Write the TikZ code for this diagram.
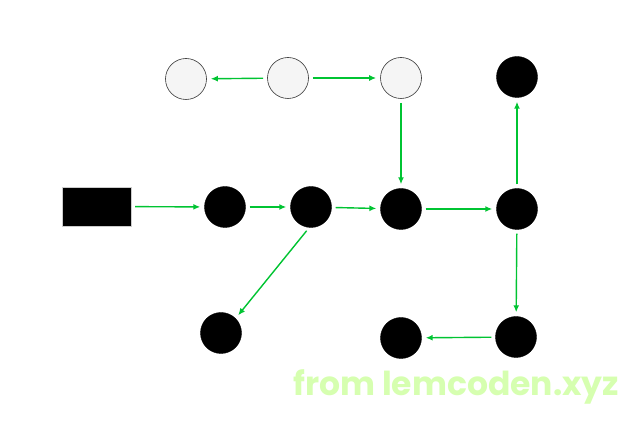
\documentclass[tikz,border=0pt]{standalone}
\usepackage{fontspec}
\newfontfamily\wmfont{Poppins}
\usetikzlibrary{arrows.meta}
\definecolor{edgegreen}{RGB}{0,196,50}
\definecolor{wmgreen}{RGB}{214,255,176}
\tikzset{
  whitecirc/.style={circle,draw=black!80,line width=0.6pt,fill=black!4,minimum size=41pt,inner sep=0pt},
  blackcirc/.style={circle,draw=black,fill=black,minimum size=41pt,inner sep=0pt},
  blackrect/.style={rectangle,draw=black!20,fill=black,minimum width=69pt,minimum height=39pt,inner sep=0pt},
  link/.style={draw=edgegreen,line width=1.4pt,-{Latex[length=7pt,width=6pt]},shorten <=4pt,shorten >=4pt}
}
\begin{document}
\begin{tikzpicture}[x=1pt,y=-1pt]
\useasboundingbox[fill=white] (0,0) rectangle (641,427);
\node[whitecirc] (t1) at (186,79) {};
\node[whitecirc] (t2) at (288,78) {};
\node[whitecirc] (t3) at (401,78) {};
\node[blackcirc] (t4) at (517,77) {};
\node[blackrect] (r) at (96.5,206.5) {};
\node[blackcirc] (m1) at (225,207) {};
\node[blackcirc] (m2) at (311,207) {};
\node[blackcirc] (m3) at (401,209) {};
\node[blackcirc] (m4) at (517,209) {};
\node[blackcirc] (b1) at (221,333) {};
\node[blackcirc] (b2) at (401,338) {};
\node[blackcirc] (b3) at (516,337) {};
\draw[link] (t2) -- (t1);
\draw[link] (t2) -- (t3);
\draw[link] (t3) -- (m3);
\draw[link] (r) -- (m1);
\draw[link] (m1) -- (m2);
\draw[link] (m2) -- (m3);
\draw[link] (m2.-95) -- (b1.45);
\draw[link] (m3) -- (m4);
\draw[link] (m4) -- (t4);
\draw[link] (m4) -- (b3);
\draw[link] (b3) -- (b2);
\node[anchor=base west,inner sep=0pt,text=wmgreen,font=\wmfont\bfseries\fontsize{33}{33}\selectfont] (wm) at (293,396) {from lemcoden.xyz};
\end{tikzpicture}
\end{document}
